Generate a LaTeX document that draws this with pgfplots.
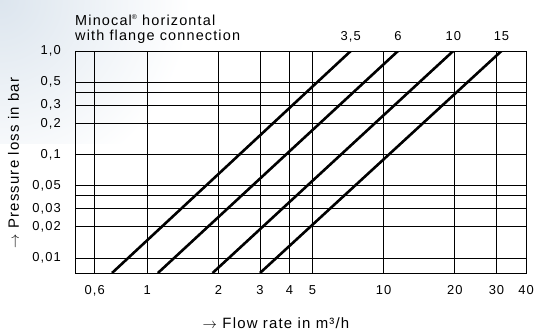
\documentclass[border=0pt]{standalone}
\usepackage{fontspec}
\setmainfont{Liberation Sans}[LetterSpace=8]
\usepackage{pgfplots}
\pgfplotsset{compat=1.18}
\definecolor{bgblue}{RGB}{220,229,238}
\begin{document}
\begin{tikzpicture}[x=1bp,y=1bp]
\begin{scope}
\clip (-76,130) rectangle (160,273);
\shade[inner color=bgblue, outer color=white] (-76,273) circle (190);
\end{scope}
\begin{axis}[at={(0,0)}, anchor=south west, scale only axis,
  width=450bp, height=222bp,
  xmode=log, ymode=log,
  xmin=0.5, xmax=40, ymin=0.00716, ymax=1,
  xtick={0.6,1,2,3,4,5,10,20,30,40},
  xticklabels={{0,6},1,2,3,4,5,10,20,30,40},
  ytick={0.01,0.02,0.03,0.05,0.1,0.2,0.3,0.5,1},
  yticklabels={{0,01},{0,02},{0,03},{0,05},{0,1},{0,2},{0,3},{0,5},{1,0}},
  extra y ticks={0.04,0.4}, extra y tick labels={},
  extra y tick style={grid=major},
  minor xtick={}, minor ytick={},
  grid=major,
  major grid style={black, line width=0.9bp},
  major tick length=0pt,
  axis line style={black, line width=1bp},
  tick label style={font=\fontsize{13}{15}\selectfont},
  /pgf/number format/assume math mode=true,
  xticklabel style={anchor=base, inner sep=0pt, yshift=-21bp},
  yticklabel style={anchor=east, inner sep=0pt, xshift=-15bp},
  clip mode=individual,
]
\addplot[black, line width=2.6bp] coordinates {(0.71,0.00716) (7.26,1)};
\addplot[black, line width=2.6bp] coordinates {(1.11,0.00716) (11.5,1)};
\addplot[black, line width=2.6bp] coordinates {(1.89,0.00716) (19.7,1)};
\addplot[black, line width=2.6bp] coordinates {(3.0,0.00716) (31.5,1)};
\node[anchor=base, inner sep=0pt, font=\fontsize{13}{15}\selectfont] at (axis cs:7.26,1) [yshift=11bp] {3,5};
\node[anchor=base, inner sep=0pt, font=\fontsize{13}{15}\selectfont] at (axis cs:11.5,1) [yshift=11bp] {6};
\node[anchor=base, inner sep=0pt, font=\fontsize{13}{15}\selectfont] at (axis cs:19.7,1) [yshift=11bp] {10};
\node[anchor=base, inner sep=0pt, font=\fontsize{13}{15}\selectfont] at (axis cs:31.5,1) [yshift=11bp] {15};
\end{axis}
\node[anchor=base west, inner sep=0pt, font=\fontsize{14.5}{15}\selectfont] at (-1,247.7) {Minocal\raisebox{0.75ex}{\fontsize{7}{7}\selectfont ®} horizontal};
\node[anchor=base west, inner sep=0pt, font=\fontsize{14.5}{15}\selectfont] at (-1,232.7) {with flange connection};
\node[anchor=base, inner sep=0pt, font=\fontsize{15}{16}\selectfont] at (200,-55) {$\rightarrow$ Flow rate in m³/h};
\node[anchor=base, inner sep=0pt, rotate=90, font=\fontsize{15}{16}\selectfont] at (-57,110) {$\rightarrow$ Pressure loss in bar};
\pgfresetboundingbox
\useasboundingbox (-76,-60) rectangle (460,273);
\end{tikzpicture}
\end{document}
